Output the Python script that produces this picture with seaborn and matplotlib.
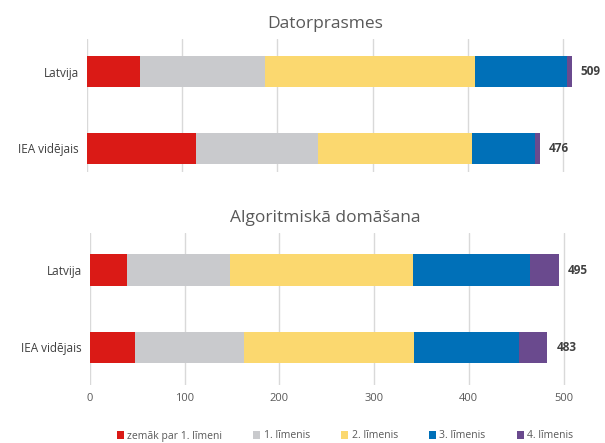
import numpy as np
import pandas as pd
import matplotlib
matplotlib.use('Agg')
import matplotlib.pyplot as plt
from matplotlib.patches import Patch
import seaborn as sns

# ── Data ─────────────────────────────────────────────────────
groups = ['Latvija', 'IEA vidējais']
levels = ['zemāk par 1. līmeni', '1. līmenis', '2. līmenis',
          '3. līmenis', '4. līmenis']
colors = ['#DA1A16', '#C9CACD', '#FBD86F', '#0070B8', '#6A4A8E']

titles = ['Datorprasmes', 'Algoritmiskā domāšana']

# segment widths per group, one list per level
dator = {
    'Latvija':      [56, 131, 221, 96, 5],
    'IEA vidējais': [114, 129, 161, 67, 5],
}
algo = {
    'Latvija':      [39, 109, 193, 124, 30],
    'IEA vidējais': [47, 116, 179, 111, 30],
}
totals_dator = [509, 476]
totals_algo = [495, 483]

sns.set_theme(style='white')
plt.rcParams['font.family'] = ['Open Sans', 'DejaVu Sans']

fig = plt.figure(figsize=(6.05, 4.43), dpi=100)
W, H = 605, 443

def px_axes(left, top, right, bottom):
    return fig.add_axes([left / W, 1 - bottom / H,
                         (right - left) / W, (bottom - top) / H])

XMAX = 520
ax_top = px_axes(87, 39, 87 + 0.952 * XMAX, 172)
ax_bot = px_axes(90, 233, 90 + 0.947 * XMAX, 385)


def draw_panel(ax, data, totals, title, show_x):
    df = pd.DataFrame(data, index=levels).T
    df.index.name = 'group'
    cum = df.cumsum(axis=1)
    # draw from the widest cumulative layer down so each stack shows
    for lvl, col in reversed(list(zip(levels, colors))):
        sns.barplot(x=cum[lvl].values, y=groups, orient='h',
                    color=col, width=0.405, ax=ax,
                    saturation=1, edgecolor='none')
    for i, t in enumerate(totals):
        ax.annotate(str(t), xy=(t, i), xytext=(6.5, 0),
                    textcoords='offset points', va='center',
                    ha='left', fontsize=8.5, fontweight='bold',
                    color='#404040', annotation_clip=False)
    ax.set_xlim(0, XMAX)
    ax.set_xticks(range(0, 501, 100))
    ax.grid(axis='x', color='#D9D9D9', linewidth=1)
    ax.set_axisbelow(True)
    for s in ax.spines.values():
        s.set_visible(False)
    ax.set_xlabel('')
    ax.set_ylabel('')
    ax.tick_params(axis='y', length=0, labelsize=8.5, labelcolor='#404040',
                   pad=6)
    if show_x:
        ax.tick_params(axis='x', length=0, labelsize=8,
                       labelcolor='#595959', pad=6)
    else:
        ax.tick_params(axis='x', length=0, labelbottom=False)
    ax.set_title(title, fontsize=12.5, color='#595959', pad=8,
                 x=(325 - ax.get_position().x0 * W) / (ax.get_position().width * W))


draw_panel(ax_top, dator, totals_dator, titles[0], False)
ax_top.set_ylim(1.31, -0.43)
draw_panel(ax_bot, algo, totals_algo, titles[1], True)
ax_bot.set_ylim(1.49, -0.48)

handles = [Patch(facecolor=c, edgecolor='none') for c in colors]
fig.legend(handles, levels, loc='center', bbox_to_anchor=(345 / W, 1 - 436 / H),
           ncol=5, frameon=False, fontsize=7.5, handlelength=0.7,
           handleheight=0.7, handletextpad=0.3, columnspacing=3.0,
           labelcolor='#595959')

fig.savefig('out.png', dpi=100)
